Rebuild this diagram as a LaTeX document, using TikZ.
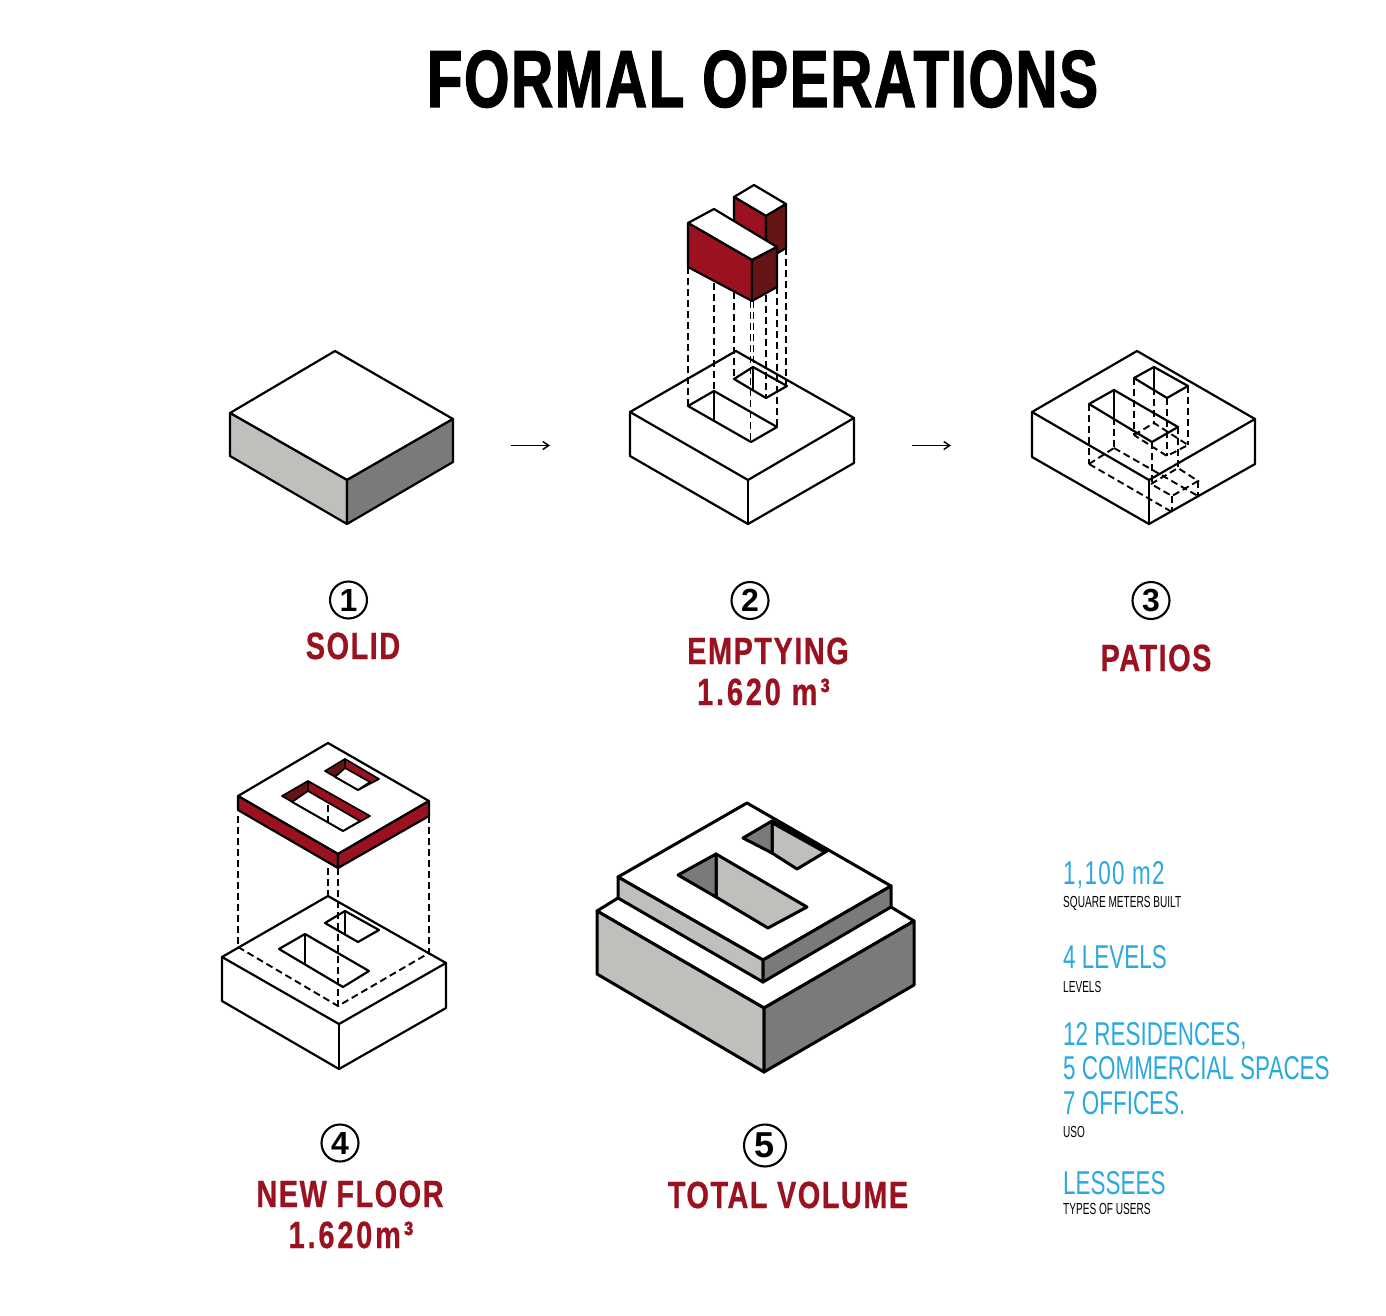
\documentclass[tikz,border=0pt]{standalone}
\usepackage{fontspec}
\setmainfont{Liberation Sans}
\newfontfamily\titlefont[FakeStretch=0.72,LetterSpace=2,BoldFeatures={FakeBold=1.4}]{Liberation Sans}
\newfontfamily\headfont[FakeStretch=0.76,LetterSpace=4,BoldFeatures={FakeBold=0.6}]{Liberation Sans}
\newfontfamily\lightfont[FakeStretch=0.68]{Liberation Sans}
\newfontfamily\notefont[FakeStretch=0.63]{Liberation Sans}
\definecolor{wine}{HTML}{9A111F}
\definecolor{winedark}{HTML}{661416}
\definecolor{greylight}{HTML}{BFBFBB}
\definecolor{greydark}{HTML}{7A7A7A}
\definecolor{skyblue}{HTML}{2BA9DE}
\usetikzlibrary{arrows.meta}
\tikzset{
  blockline/.style={draw=black,line width=2.2pt,line join=round,line cap=round},
  thinline/.style={draw=black,line width=1.7pt,line join=round,line cap=round},
  heavy/.style={draw=black,line width=3pt,line join=round,line cap=round},
  hidden/.style={draw=black,line width=1.9pt,dash pattern=on 7pt off 4pt},
  headtext/.style={font=\titlefont\bfseries\fontsize{81}{81}\selectfont,anchor=base,inner sep=0},
  redtext/.style={font=\headfont\bfseries\fontsize{38}{38}\selectfont,text=wine,anchor=base,inner sep=0},
  stattext/.style={font=\lightfont\fontsize{33}{33}\selectfont,text=skyblue,anchor=base west,inner sep=0},
  notetext/.style={font=\notefont\fontsize{16}{16}\selectfont,text=black,anchor=base west,inner sep=0},
  numcircle/.style={circle,draw=black,line width=2.1pt,minimum size=37pt,inner sep=0,font=\bfseries\fontsize{32}{32}\selectfont},
  flow/.style={draw=black,line width=1.4pt,-{Straight Barb[length=6pt,width=8pt]}},
}
\begin{document}
\begin{tikzpicture}[x=1pt,y=-1pt]
\useasboundingbox (0,0) rectangle (1386,1316);
\fill[white] (0,0) rectangle (1386,1316);
\node[headtext] (head) at (762.5,107) {FORMAL OPERATIONS};

% 1 solid
\filldraw[blockline,fill=white] (335,351)--(230,413)--(347,480)--(453,419)--cycle;
\filldraw[blockline,fill=greylight] (230,413)--(347,480)--(347,524)--(230,456)--cycle;
\filldraw[blockline,fill=greydark] (347,480)--(453,419)--(453,462)--(347,524)--cycle;

% arrows
\coordinate (a1s) at (511,445.5); \coordinate (a1e) at (550,445.5);
\coordinate (a2s) at (912,445.5); \coordinate (a2e) at (951,445.5);
\draw[flow] (a1s)--(a1e);
\draw[flow] (a2s)--(a2e);

% 2 emptying
\draw[blockline] (736,351)--(630,412)--(748,480)--(854,418)--cycle;
\draw[blockline] (630,412)--(630,456)--(748,524)--(854,463)--(854,418);
\draw[blockline] (748,480)--(748,524);
\draw[blockline] (688,406)--(714,391)--(777,427)--(751,442)--cycle;
\draw[blockline] (714,391)--(714,420);
\draw[blockline] (734,379)--(753,367)--(787,386)--(766,398)--cycle;
\draw[blockline] (753,367)--(753,390);
\draw[hidden] (688,267)--(688,406);
\draw[hidden] (714,283)--(714,391);
\draw[hidden] (734,292)--(734,379);
\draw[hidden] (750.5,301)--(750.5,442);
\draw[hidden] (753.5,301)--(753.5,367);
\draw[hidden] (766,295)--(766,398);
\draw[hidden] (777,287)--(777,427);
\draw[hidden] (786,248)--(786,386);
% red volumes
\filldraw[blockline,fill=white] (734,197)--(754,185)--(786,204)--(766,216)--cycle;
\filldraw[blockline,fill=wine] (734,197)--(766,216)--(766,260)--(734,240)--cycle;
\filldraw[blockline,fill=winedark] (766,216)--(786,204)--(786,248)--(766,260)--cycle;
\filldraw[blockline,fill=white] (688,223)--(714,209)--(777,247)--(752,260)--cycle;
\filldraw[blockline,fill=wine] (688,223)--(752,260)--(752,301)--(688,267)--cycle;
\filldraw[blockline,fill=winedark] (752,260)--(777,247)--(777,287)--(752,301)--cycle;

% 3 patios
\draw[blockline] (1137,351)--(1032,412)--(1149,480)--(1255,419)--cycle;
\draw[blockline] (1032,412)--(1032,457)--(1149,524)--(1255,464)--(1255,419);
\draw[blockline] (1149,480)--(1149,524);
\draw[blockline] (1089,404)--(1114,390)--(1178,427)--(1152,442)--cycle;
\draw[blockline] (1114,390)--(1114,418);
\draw[blockline] (1134,378)--(1154,367)--(1188,386)--(1167,398)--cycle;
\draw[blockline] (1154,367)--(1154,388);
\draw[hidden] (1089,404)--(1089,464);
\draw[hidden] (1114,418)--(1114,448);
\draw[hidden] (1152,442)--(1152,484);
\draw[hidden] (1178,427)--(1178,468);
\draw[hidden] (1134,378)--(1134,435);
\draw[hidden] (1154,388)--(1154,423);
\draw[hidden] (1167,398)--(1167,456);
\draw[hidden] (1188,386)--(1188,445);
\draw[hidden] (1134,435)--(1154,423)--(1188,445)--(1167,456)--cycle;
\draw[hidden] (1089,464)--(1114,448);
\draw[hidden] (1089,464)--(1172,512);
\draw[hidden] (1114,448)--(1198,496);
\draw[hidden] (1151,484)--(1178,468)--(1198,481)--(1172,496)--cycle;
\draw[hidden] (1172,496)--(1172,512);
\draw[hidden] (1198,481)--(1198,496);

% 4 new floor, lower block
\draw[blockline] (328,896)--(222,957)--(339,1024)--(446,963)--cycle;
\draw[blockline] (222,957)--(222,1001)--(339,1069)--(446,1008)--(446,963);
\draw[blockline] (339,1024)--(339,1069);
\draw[blockline] (279,949)--(305,934)--(369,971)--(343,987)--cycle;
\draw[blockline] (305,934)--(305,964);
\draw[blockline] (325,923)--(345,911)--(379,930)--(358,942)--cycle;
\draw[blockline] (345,911)--(345,934);
\draw[hidden] (238,947)--(338,1006)--(429,953);
\draw[hidden] (238,816)--(238,947);
\draw[hidden] (429,816)--(429,953);
\draw[hidden] (338,868)--(338,1006);
\draw[hidden] (328,868)--(328,896);
% slab
\filldraw[blockline,fill=white] (328,743)--(238,796)--(338,854)--(429,801)--cycle;
\filldraw[blockline,fill=wine] (238,796)--(338,854)--(338,868)--(238,810)--cycle;
\filldraw[blockline,fill=wine] (338,854)--(429,801)--(429,816)--(338,868)--cycle;
\fill[wine] (282,796)--(308,781)--(370,816)--(343,831)--cycle;
\fill[winedark] (282,796)--(308,781)--(308,791)--(292,802)--cycle;
\filldraw[thinline,fill=white] (292,802)--(308,791)--(360,821)--(343,831)--cycle;
\draw[thinline] (282,796)--(308,781)--(370,816)--(343,831)--cycle;
\draw[thinline] (308,781)--(308,791);
\fill[wine] (325,771)--(345,759)--(379,779)--(358,790)--cycle;
\fill[winedark] (325,771)--(345,759)--(345,768)--(335,777)--cycle;
\filldraw[thinline,fill=white] (335,777)--(345,768)--(370,782)--(358,790)--cycle;
\draw[thinline] (325,771)--(345,759)--(379,779)--(358,790)--cycle;
\draw[thinline] (345,759)--(345,768);
\draw[hidden] (328,805)--(328,823);

% 5 total volume
\filldraw[heavy,fill=white] (618,898)--(597,911)--(764,1008)--(914,921)--(891,907)--cycle;
\filldraw[heavy,fill=greylight] (597,911)--(764,1008)--(764,1072)--(597,974)--cycle;
\filldraw[heavy,fill=greydark] (764,1008)--(914,921)--(914,985)--(764,1072)--cycle;
\filldraw[heavy,fill=white] (747,803)--(618,877)--(763,960)--(891,886)--cycle;
\filldraw[heavy,fill=greylight] (618,877)--(763,960)--(763,982)--(618,898)--cycle;
\filldraw[heavy,fill=greydark] (763,960)--(891,886)--(891,907)--(763,982)--cycle;
\filldraw[heavy,fill=greylight] (716,854)--(807,907)--(768,928)--(716,897)--cycle;
\filldraw[heavy,fill=greydark] (678,875)--(716,854)--(716,897)--cycle;
\filldraw[heavy,fill=greylight] (772,821)--(827,851)--(797,869)--(772,853)--cycle;
\filldraw[heavy,fill=greydark] (743,838)--(772,821)--(772,853)--cycle;
\draw[line width=4.2pt] (772,822)--(826,852);

% labels
\node[numcircle] (n1) at (348.5,600) {1};
\node[numcircle] (n2) at (750,600.5) {2};
\node[numcircle] (n3) at (1151,600.5) {3};
\node[numcircle] (n4) at (340,1143) {4};
\node[numcircle,minimum size=42pt,font=\bfseries\fontsize{36}{36}\selectfont] (n5) at (765,1145.5) {5};
\node[redtext] (l1) at (353,659) {SOLID};
\node[redtext] (l2) at (768,664) {EMPTYING};
\node[redtext] (l2b) at (763.5,705) {\addfontfeature{LetterSpace=7.5}1.620 m³};
\node[redtext] (l3) at (1156,671) {PATIOS};
\node[redtext] (l4) at (350,1207) {NEW FLOOR};
\node[redtext] (l4b) at (351,1248) {\addfontfeature{LetterSpace=7.5}1.620m³};
\node[redtext] (l5) at (788,1208) {TOTAL VOLUME};

\node[stattext] (s1) at (1063,884) {\addfontfeature{LetterSpace=4}1,100 m2};
\node[notetext] (s1n) at (1063,907.5) {SQUARE METERS BUILT};
\node[stattext] (s2) at (1063,968) {4 LEVELS};
\node[notetext] (s2n) at (1063,992.5) {LEVELS};
\node[stattext] (s3) at (1063,1045) {12 RESIDENCES,};
\node[stattext] (s3b) at (1063,1079) {5 COMMERCIAL SPACES};
\node[stattext] (s3c) at (1063,1114) {7 OFFICES.};
\node[notetext] (s3n) at (1063,1137.5) {USO};
\node[stattext] (s4) at (1063,1194) {LESSEES};
\node[notetext] (s4n) at (1063,1214.5) {TYPES OF USERS};
\end{tikzpicture}
\end{document}
